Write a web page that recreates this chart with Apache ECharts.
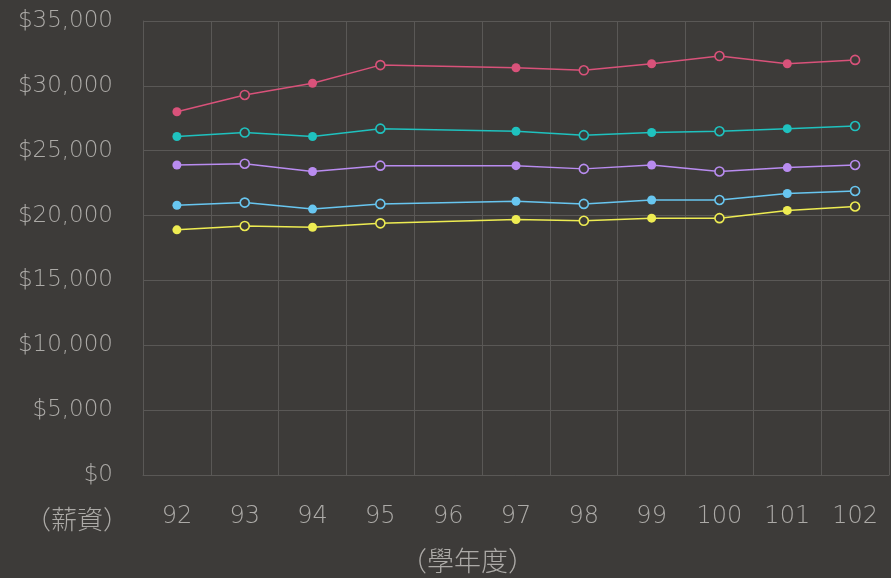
<!DOCTYPE html>
<html>
<head>
<meta charset="utf-8">
<script src="https://cdn.jsdelivr.net/npm/echarts@6/dist/echarts.min.js"></script>
<style>
  html, body { margin: 0; padding: 0; background: #3d3b39; }
  #chart { width: 891px; height: 578px; }
</style>
</head>
<body>
<div id="chart"></div>
<script>
// 學年度
var years = ['92', '93', '94', '95', '96', '97', '98', '99', '100', '101', '102'];

// 各組薪資（96 學年度無資料）
var seriesPink   = [28000, 29300, 30200, 31600, null, 31400, 31200, 31700, 32300, 31700, 32000];
var seriesTeal   = [26100, 26400, 26100, 26700, null, 26500, 26200, 26400, 26500, 26700, 26900];
var seriesPurple = [23900, 24000, 23400, 23850, null, 23850, 23600, 23900, 23400, 23700, 23900];
var seriesBlue   = [20800, 21000, 20500, 20900, null, 21100, 20900, 21200, 21200, 21700, 21900];
var seriesYellow = [18900, 19200, 19100, 19400, null, 19700, 19600, 19800, 19800, 20400, 20700];

var yTicks = [0, 5000, 10000, 15000, 20000, 25000, 30000, 35000];

var bg = '#3d3b39';
var textColor = '#acaaa7';
var gridColor = '#5a5856';
var numFont = '"DejaVu Sans", "Noto Sans CJK TC", sans-serif';
var cjkFont = '"Noto Sans CJK TC", sans-serif';

// 實心、空心點交替
function makeData(values, color) {
  var k = 0;
  return values.map(function (v) {
    if (v === null) return null;
    var hollow = (k++ % 2) === 1;
    return {
      value: v,
      itemStyle: hollow
        ? { color: bg, borderColor: color, borderWidth: 1.6 }
        : { color: color, borderColor: color, borderWidth: 0 }
    };
  });
}

function makeSeries(name, values, color) {
  return {
    name: name,
    type: 'line',
    symbol: 'circle',
    symbolSize: 9,
    connectNulls: true,
    lineStyle: { color: color, width: 1.5 },
    data: makeData(values, color)
  };
}

var myChart = echarts.init(document.getElementById('chart'));
var option = {
  backgroundColor: bg,
  animation: false,
  grid: { left: 143, right: 2, top: 21, bottom: 103 },
  xAxis: {
    type: 'category',
    boundaryGap: true,
    data: years,
    axisLine: { lineStyle: { color: gridColor, width: 1 } },
    axisTick: { show: false },
    splitLine: { show: true, lineStyle: { color: gridColor, width: 1 } },
    axisLabel: { color: textColor, fontSize: 24, fontWeight: 200, margin: 30, fontFamily: numFont }
  },
  yAxis: {
    type: 'value',
    min: 0,
    max: 35000,
    interval: 5000,
    axisLine: { show: true, lineStyle: { color: gridColor, width: 1 } },
    axisTick: { show: false },
    splitLine: { lineStyle: { color: gridColor, width: 1 } },
    axisLabel: {
      color: textColor, fontSize: 23, fontWeight: 200, margin: 30, fontFamily: numFont,
      padding: [6, 0, 0, 0],
      formatter: function (v) {
        return yTicks.indexOf(v) >= 0 ? '$' + v.toLocaleString('en-US') : '';
      }
    }
  },
  graphic: [
    {
      type: 'text', left: 25, top: 506,
      style: { text: '（薪資）', fill: textColor, font: '300 26px ' + cjkFont }
    },
    {
      type: 'text', left: 400, top: 547,
      style: { text: '（學年度）', fill: textColor, font: '300 27px ' + cjkFont }
    }
  ],
  series: [
    makeSeries('pink', seriesPink, '#d9527a'),
    makeSeries('teal', seriesTeal, '#1fc2bf'),
    makeSeries('purple', seriesPurple, '#b98cf0'),
    makeSeries('blue', seriesBlue, '#68c6f0'),
    makeSeries('yellow', seriesYellow, '#eeec52')
  ]
};
myChart.setOption(option);
</script>
</body>
</html>
